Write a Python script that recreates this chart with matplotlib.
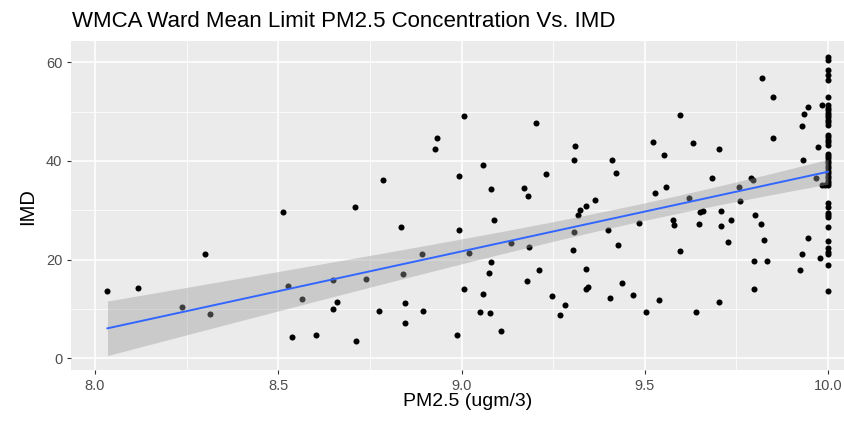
import matplotlib.pyplot as plt
import numpy as np

# ward values
pm25 = [
    8.034, 8.118, 8.236, 8.299, 8.314,
    8.514, 8.526, 8.537, 8.566, 8.603, 8.648, 8.659, 8.650, 8.709, 8.713,
    8.739, 8.775, 8.786, 8.834, 8.841, 8.845, 8.845, 8.893, 8.896, 8.929,
    8.934, 8.992, 8.992, 8.988, 9.006, 9.006, 9.020,
    9.059, 9.059, 9.051, 9.074, 9.078, 9.081, 9.081, 9.088, 9.107, 9.136,
    9.170, 9.181, 9.178, 9.185, 9.203, 9.211, 9.230, 9.248, 9.270, 9.281,
    9.304, 9.308, 9.308, 9.311, 9.319, 9.322, 9.341, 9.341, 9.341, 9.344,
    9.364, 9.400, 9.404, 9.411, 9.422, 9.426, 9.438, 9.467, 9.485, 9.504,
    9.522, 9.529, 9.540,
    9.552, 9.559, 9.577, 9.581, 9.596, 9.596, 9.621, 9.632, 9.639, 9.648,
    9.651, 9.659, 9.683, 9.703, 9.703, 9.707, 9.707, 9.728, 9.736, 9.757,
    9.761, 9.791, 9.795, 9.798, 9.798, 9.802, 9.816, 9.820, 9.824, 9.834,
    9.849, 9.849, 9.924, 9.928, 9.928, 9.931, 9.935, 9.946, 9.946, 9.967,
    9.972, 9.978, 9.983, 9.984, 9.992,
    10.0, 10.0, 10.0, 10.0, 10.0, 10.0, 10.0, 10.0, 10.0, 10.0,
    10.0, 10.0, 10.0, 10.0, 10.0, 10.0, 10.0, 10.0, 10.0, 10.0,
    10.0, 10.0, 10.0, 10.0, 10.0, 10.0, 10.0, 10.0, 10.0, 10.0,
    10.0, 10.0, 10.0, 10.0, 10.0, 10.0, 10.0, 10.0, 10.0, 10.0,
    10.0, 10.0, 10.0, 10.0, 10.0, 10.0,
]
imd = [
    13.7, 14.3, 10.4, 21.1, 9.0,
    29.6, 14.7, 4.4, 12.0, 4.7, 15.9, 11.5, 9.9, 30.7, 3.5,
    16.1, 9.6, 36.2, 26.6, 17.0, 11.2, 7.1, 21.1, 9.6, 42.5,
    44.7, 37.0, 26.0, 4.7, 49.1, 14.0, 21.3,
    39.2, 13.1, 9.3, 17.3, 9.1, 34.3, 19.5, 28.0, 5.5, 23.3,
    34.6, 32.9, 15.7, 22.5, 47.7, 17.8, 37.3, 12.6, 8.8, 10.9,
    22.0, 25.5, 40.1, 43.0, 29.1, 30.1, 30.9, 18.1, 14.0, 14.5,
    32.1, 26.0, 12.3, 40.1, 37.6, 23.0, 15.3, 12.8, 27.4, 9.3,
    43.9, 33.4, 11.8,
    41.1, 34.8, 28.0, 27.0, 49.4, 21.7, 32.5, 43.6, 9.3, 27.2,
    29.6, 29.9, 36.5, 42.5, 11.5, 29.9, 26.9, 23.6, 28.0, 34.8,
    31.8, 36.5, 36.2, 14.0, 19.7, 29.1, 27.2, 56.8, 23.9, 19.7,
    52.9, 44.7, 17.8, 21.1, 47.1, 40.2, 49.6, 51.0, 24.3, 36.6,
    42.9, 20.3, 51.3, 35.1, 35.1,
    61.1, 60.4, 58.4, 57.4, 56.4, 53.0, 51.3, 50.8, 50.3, 49.8,
    49.3, 48.8, 48.3, 47.8, 47.3, 45.3, 44.8, 44.3, 43.8, 43.3,
    41.5, 41.0, 40.5, 40.0, 39.5, 39.0, 38.5, 38.0, 37.5, 37.0,
    36.5, 36.0, 35.5, 35.1, 31.4, 30.7, 29.4, 29.0, 28.6, 26.7,
    23.8, 22.3, 21.6, 21.1, 18.9, 13.7,
]

x_ticks = [8.0, 8.5, 9.0, 9.5, 10.0]
x_tick_labels = ["8.0", "8.5", "9.0", "9.5", "10.0"]
y_ticks = [0, 20, 40, 60]

x = np.array(pm25)
y = np.array(imd)

# linear fit with 95% confidence band (like geom_smooth(method="lm"))
slope, intercept = np.polyfit(x, y, 1)
xs = np.linspace(x.min(), x.max(), 80)
fit = intercept + slope * xs
resid = y - (intercept + slope * x)
n = len(x)
s = np.sqrt(np.sum(resid ** 2) / (n - 2))
se = s * np.sqrt(1 / n + (xs - x.mean()) ** 2 / np.sum((x - x.mean()) ** 2))
t_crit = 1.974
lo, hi = fit - t_crit * se, fit + t_crit * se

plt.rcParams["font.family"] = ["Liberation Sans", "DejaVu Sans"]

fig = plt.figure(figsize=(8.44, 4.23), dpi=100)
ax = fig.add_axes([71 / 844, 53 / 423, 1 - 71 / 844, 329 / 423])
ax.set_facecolor("#EBEBEB")
for sp in ax.spines.values():
    sp.set_visible(False)

ax.set_xlim(7.9345, 10.0436)
ax.set_ylim(-2.37, 64.3)
ax.set_xticks(x_ticks)
ax.set_xticklabels(x_tick_labels)
ax.set_yticks(y_ticks)
ax.set_xticks([8.25, 8.75, 9.25, 9.75], minor=True)
ax.set_yticks([10, 30, 50], minor=True)
ax.grid(which="major", color="white", linewidth=1.1)
ax.grid(which="minor", color="white", linewidth=0.55)
ax.set_axisbelow(True)
ax.tick_params(which="major", direction="out", length=3.2, width=0.8,
               color="#333333", labelcolor="#4D4D4D", labelsize=10.5)
ax.tick_params(axis="x", pad=3.5)
ax.tick_params(axis="y", pad=3)
ax.tick_params(which="minor", length=0)

ax.scatter(x, y, s=19, color="black", linewidths=0, zorder=2)
ax.fill_between(xs, lo, hi, color="#999999", alpha=0.4, linewidth=0, zorder=3)
ax.plot(xs, fit, color="#3366FF", linewidth=1.4, zorder=4)

fig.text(72 / 844, 1 - 27 / 423, "WMCA Ward Mean Limit PM2.5 Concentration Vs. IMD",
         fontsize=16, color="black", ha="left", va="baseline")
fig.text(468 / 844, 1 - 406 / 423, "PM2.5 (ugm/3)", fontsize=14,
         color="black", ha="center", va="baseline")
fig.text(28 / 844, 1 - 207 / 423, "IMD", fontsize=14.5, color="black",
         rotation=90, ha="center", va="center")

fig.savefig("out.png", dpi=100)
